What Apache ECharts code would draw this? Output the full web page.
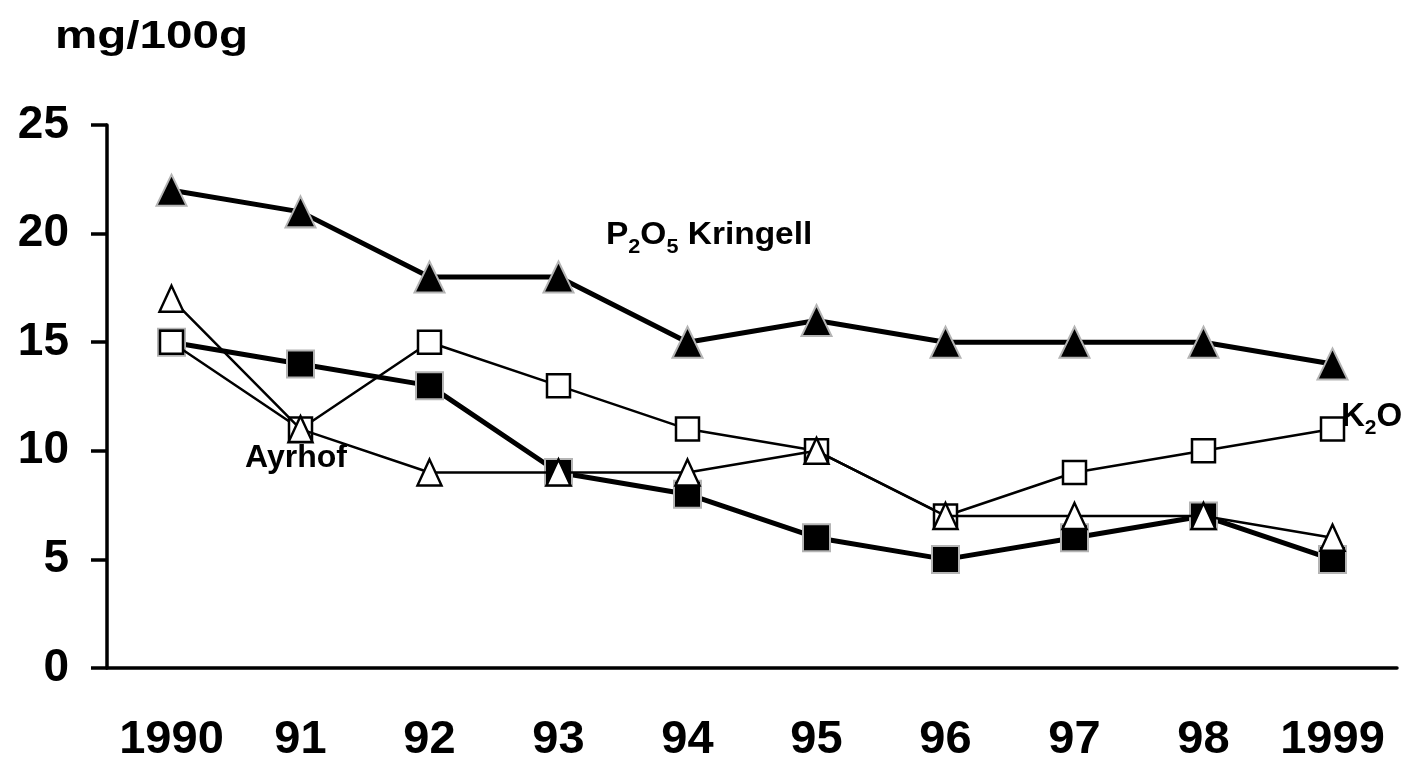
<!DOCTYPE html>
<html>
<head>
<meta charset="utf-8">
<script src="https://cdn.jsdelivr.net/npm/echarts@6/dist/echarts.min.js"></script>
<style>
html,body{margin:0;padding:0;background:#fff;}
#main{width:1409px;height:764px;}
</style>
</head>
<body>
<div id="main"></div>
<script>
var categories = ['1990','91','92','93','94','95','96','97','98','1999'];
var yTicks = [0, 5, 10, 15, 20, 25];
var p2o5Kringell = [22, 21, 18, 18, 15, 16, 15, 15, 15, 14];
var k2oKringell  = [15, 14, 13, 9, 8, 6, 5, 6, 7, 5];
var k2oAyrhof    = [15, 11, 15, 13, 11, 10, 7, 9, 10, 11];
var p2o5Ayrhof   = [17, 11, 9, 9, 9, 10, 7, 7, 7, 6];

var FONT = "'Liberation Sans', Arial, Helvetica, sans-serif";
var chart = echarts.init(document.getElementById('main'));

var option = {
  backgroundColor: '#ffffff',
  animation: false,
  grid: { left: 107, right: 12, top: 125, bottom: 96 },
  xAxis: {
    type: 'category',
    data: categories,
    boundaryGap: true,
    axisLine: { lineStyle: { color: '#000', width: 3.5 } },
    axisTick: { show: false },
    axisLabel: { interval: 0, margin: 49, fontFamily: FONT, fontWeight: 'bold', fontSize: 47, color: '#000' },
    splitLine: { show: false }
  },
  yAxis: {
    type: 'value',
    min: yTicks[0],
    max: yTicks[yTicks.length - 1],
    interval: 5,
    axisLine: { show: true, lineStyle: { color: '#000', width: 3.5 } },
    axisTick: { show: true, inside: false, length: 16, lineStyle: { color: '#000', width: 3.5 } },
    axisLabel: { margin: 38, fontFamily: FONT, fontWeight: 'bold', fontSize: 46, color: '#000' },
    splitLine: { show: false }
  },
  series: [
    {
      name: 'P2O5 Kringell', type: 'line', data: p2o5Kringell, z: 2,
      symbol: 'triangle', symbolSize: [30, 31],
      lineStyle: { color: '#000', width: 5 },
      itemStyle: { color: '#000', borderColor: '#b4b4b4', borderWidth: 2 }
    },
    {
      name: 'K2O Kringell', type: 'line', data: k2oKringell, z: 3,
      symbol: 'rect', symbolSize: 27,
      lineStyle: { color: '#000', width: 5 },
      itemStyle: { color: '#000', borderColor: '#b4b4b4', borderWidth: 2 }
    },
    {
      name: 'K2O Ayrhof', type: 'line', data: k2oAyrhof, z: 4,
      symbol: 'rect', symbolSize: 23,
      lineStyle: { color: '#000', width: 2.5 },
      itemStyle: { color: '#fff', borderColor: '#000', borderWidth: 2.5 }
    },
    {
      name: 'P2O5 Ayrhof', type: 'line', data: p2o5Ayrhof, z: 5,
      symbol: 'triangle', symbolSize: [24, 26],
      lineStyle: { color: '#000', width: 2.5 },
      itemStyle: { color: '#fff', borderColor: '#000', borderWidth: 2.5 }
    }
  ],
  graphic: [
    {
      type: 'text', x: 55, y: 18, scaleX: 1.22, z: 10,
      style: { text: 'mg/100g', fontFamily: FONT, fontWeight: 'bold', fontSize: 39, fill: '#000' }
    },
    {
      type: 'text', x: 606, y: 213, scaleX: 1.08, z: 10,
      style: {
        text: '{a|P}{s|2}{a|O}{s|5}{a| Kringell}',
        rich: {
          a: { fontFamily: FONT, fontWeight: 'bold', fontSize: 31, lineHeight: 44, verticalAlign: 'middle', fill: '#000' },
          s: { fontFamily: FONT, fontWeight: 'bold', fontSize: 20, lineHeight: 20, verticalAlign: 'bottom', fill: '#000' }
        }
      }
    },
    {
      type: 'text', x: 1341, y: 395, z: 10,
      style: {
        text: '{a|K}{s|2}{a|O}',
        rich: {
          a: { fontFamily: FONT, fontWeight: 'bold', fontSize: 33, lineHeight: 44, verticalAlign: 'middle', fill: '#000' },
          s: { fontFamily: FONT, fontWeight: 'bold', fontSize: 21, lineHeight: 20, verticalAlign: 'bottom', fill: '#000' }
        }
      }
    },
    {
      type: 'text', x: 245, y: 442, z: 10,
      style: { text: 'Ayrhof', fontFamily: FONT, fontWeight: 'bold', fontSize: 32, fill: '#000' }
    }
  ]
};
chart.setOption(option);
</script>
</body>
</html>
